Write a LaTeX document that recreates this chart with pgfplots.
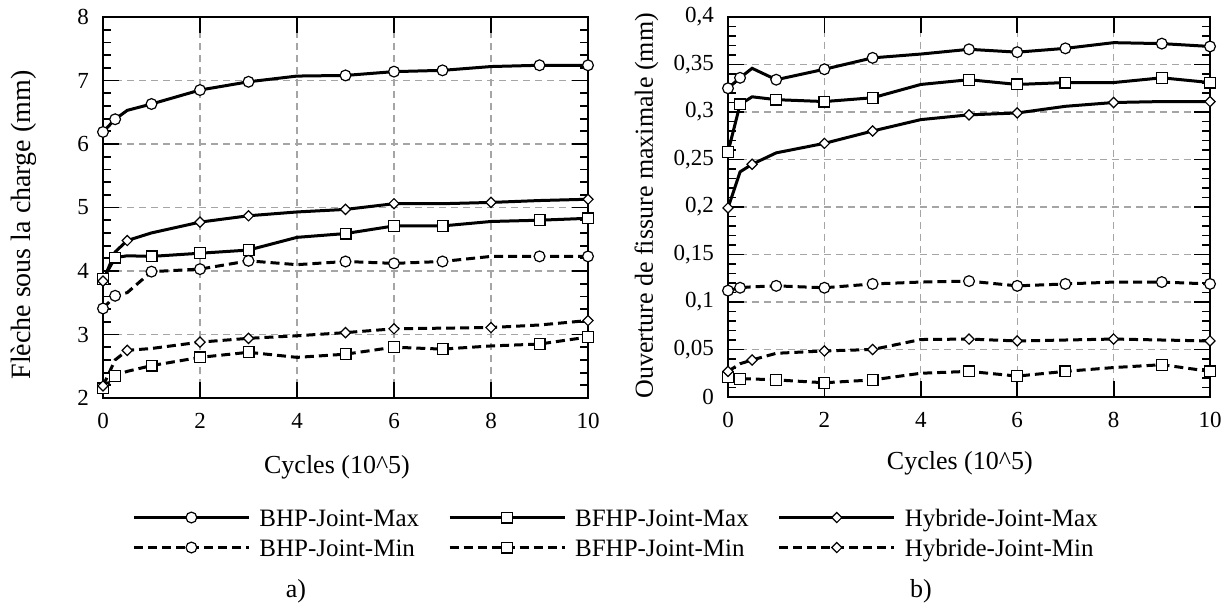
\documentclass[border=0pt]{standalone}
\usepackage{fontspec}
\setmainfont{Liberation Serif}
\usepackage{pgfplots}
\usepackage{pgfplotstable}
\pgfplotsset{compat=1.18}
\definecolor{gridgray}{RGB}{165,165,165}

\pgfplotstableread{
x     bhpmax bfhpmax hybmax bhpmin bfhpmin hybmin
0     6.19   3.87    3.84   3.41   2.15    2.19
0.25  6.39   4.21    4.30   3.61   2.35    2.60
0.5   6.53   4.24    4.48   3.66   2.42    2.75
1     6.63   4.23    4.60   3.99   2.51    2.78
2     6.85   4.28    4.77   4.03   2.64    2.88
3     6.98   4.33    4.87   4.16   2.72    2.94
4     7.07   4.53    4.93   4.10   2.64    2.98
5     7.08   4.59    4.97   4.15   2.69    3.03
6     7.14   4.71    5.06   4.12   2.80    3.09
7     7.16   4.71    5.06   4.15   2.77    3.10
8     7.22   4.78    5.08   4.23   2.82    3.11
9     7.24   4.80    5.11   4.23   2.85    3.15
10    7.24   4.83    5.13   4.23   2.96    3.22
}\lefttab

\pgfplotstableread{
x     bhpmax bfhpmax hybmax bhpmin bfhpmin hybmin
0     0.325  0.258   0.199  0.112  0.021   0.027
0.25  0.336  0.308   0.237  0.115  0.019   0.035
0.5   0.346  0.316   0.245  0.116  0.019   0.039
1     0.334  0.313   0.257  0.117  0.018   0.046
2     0.345  0.311   0.267  0.115  0.015   0.0485
3     0.357  0.315   0.280  0.119  0.018   0.050
4     0.361  0.329   0.292  0.121  0.025   0.0605
5     0.366  0.334   0.297  0.122  0.027   0.061
6     0.363  0.329   0.299  0.117  0.022   0.059
7     0.367  0.331   0.306  0.119  0.027   0.060
8     0.373  0.331   0.310  0.121  0.031   0.061
9     0.372  0.336   0.311  0.121  0.034   0.060
10    0.369  0.331   0.311  0.119  0.027   0.059
}\righttab

\pgfplotsset{
  mystyle/.style={
    scale only axis,
    axis line style={line width=0.9pt},
    tick style={line width=0.9pt, black},
    major tick length=8pt,
    minor tick length=4pt,
    tick align=inside,
    xtick pos=both, ytick pos=both,
    xticklabel pos=lower, yticklabel pos=left,
    grid=major,
    major grid style={gridgray, line width=0.6pt, dash pattern=on 3.5pt off 2.5pt},
    xmin=0, xmax=10, xtick={0,2,4,6,8,10},
    scaled ticks=false,
    ticklabel style={font=\fontsize{11.5}{13}\selectfont},
    /pgf/number format/assume math mode=true,
    xticklabel style={yshift=-4pt},
    yticklabel style={xshift=-3.5pt, /pgf/number format/fixed, /pgf/number format/precision=2},
    clip=false,
    minor y tick num=4,
    legend image code/.code={\draw[mark indices={2}] plot coordinates {(0pt,1.5pt) (28.75pt,1.5pt) (57.5pt,1.5pt)};},
  },
  maxl/.style={black, line width=1.5pt, solid},
  minl/.style={black, line width=1.5pt, dash pattern=on 4.5pt off 2.5pt},
  circ/.style={mark=*, mark size=2.7pt, mark options={solid, fill=white, draw=black, line width=0.6pt}, mark indices={1,2,4,5,6,8,9,10,12,13}},
  sq/.style={mark=square*, mark size=2.7pt, mark options={solid, fill=white, draw=black, line width=0.6pt}, mark indices={1,2,4,5,6,8,9,10,12,13}},
  dia/.style={mark=square*, mark size=1.8pt, mark options={solid, rotate=45, fill=white, draw=black, line width=0.6pt}, mark indices={1,3,5,6,8,9,11,13}},
}

\begin{document}
\begin{tikzpicture}
\path[use as bounding box] (0,0) rectangle (615pt,303.5pt);

\begin{axis}[mystyle,
  at={(51.5pt,104.5pt)}, anchor=south west,
  width=242.5pt, height=190.5pt,
  ymin=2, ymax=8, ytick={2,3,4,5,6,7,8},
  xlabel={Cycles (10\textasciicircum 5)},
  ylabel={Flèche sous la charge (mm)},
  xlabel style={font=\fontsize{13}{15}\selectfont, at={(axis description cs:0.4825,-0.181)}, anchor=center},
  ylabel style={font=\fontsize{14}{16}\selectfont, at={(axis description cs:-0.163,0.454)}, anchor=center, rotate=0},
  legend columns=3,
  legend cell align=left,
  legend style={at={(axis description cs:0.0598,-0.289)}, anchor=north west, draw=none, fill=none, inner sep=0pt,
    font=\fontsize{12.5}{14}\selectfont,
    nodes={inner sep=0pt, text height=9pt, text depth=3pt},
    row sep=3pt,
    /tikz/every odd column/.append style={column sep=4.5pt},
    /tikz/every even column/.append style={column sep=14.5pt}},
]
\addplot[maxl, circ] table[x=x, y=bhpmax] {\lefttab};
\addlegendentry{BHP-Joint-Max}
\addplot[maxl, sq] table[x=x, y=bfhpmax] {\lefttab};
\addlegendentry{BFHP-Joint-Max}
\addplot[maxl, dia] table[x=x, y=hybmax] {\lefttab};
\addlegendentry{Hybride-Joint-Max}
\addplot[minl, circ] table[x=x, y=bhpmin] {\lefttab};
\addlegendentry{BHP-Joint-Min}
\addplot[minl, sq] table[x=x, y=bfhpmin] {\lefttab};
\addlegendentry{BFHP-Joint-Min}
\addplot[minl, dia] table[x=x, y=hybmin] {\lefttab};
\addlegendentry{Hybride-Joint-Min}
\end{axis}

\begin{axis}[mystyle,
  at={(364pt,105pt)}, anchor=south west,
  width=241pt, height=190pt,
  ymin=0, ymax=0.4, ytick={0,0.05,0.1,0.15,0.2,0.25,0.3,0.35,0.4},
  yticklabel style={/pgf/number format/use comma},
  xlabel={Cycles (10\textasciicircum 5)},
  ylabel={Ouverture de fissure maximale (mm)},
  xlabel style={font=\fontsize{13}{15}\selectfont, at={(axis description cs:0.481,-0.174)}, anchor=center},
  ylabel style={font=\fontsize{13}{15}\selectfont, at={(axis description cs:-0.169,0.503)}, anchor=center, rotate=0},
]
\addplot[maxl, circ] table[x=x, y=bhpmax] {\righttab};
\addplot[maxl, sq] table[x=x, y=bfhpmax] {\righttab};
\addplot[maxl, dia] table[x=x, y=hybmax] {\righttab};
\addplot[minl, circ] table[x=x, y=bhpmin] {\righttab};
\addplot[minl, sq] table[x=x, y=bfhpmin] {\righttab};
\addplot[minl, dia] table[x=x, y=hybmin] {\righttab};
\end{axis}

\node[font=\fontsize{13}{15}\selectfont] at (148pt,8pt) {a)};
\node[font=\fontsize{13}{15}\selectfont] at (460.5pt,8pt) {b)};
\end{tikzpicture}
\end{document}
